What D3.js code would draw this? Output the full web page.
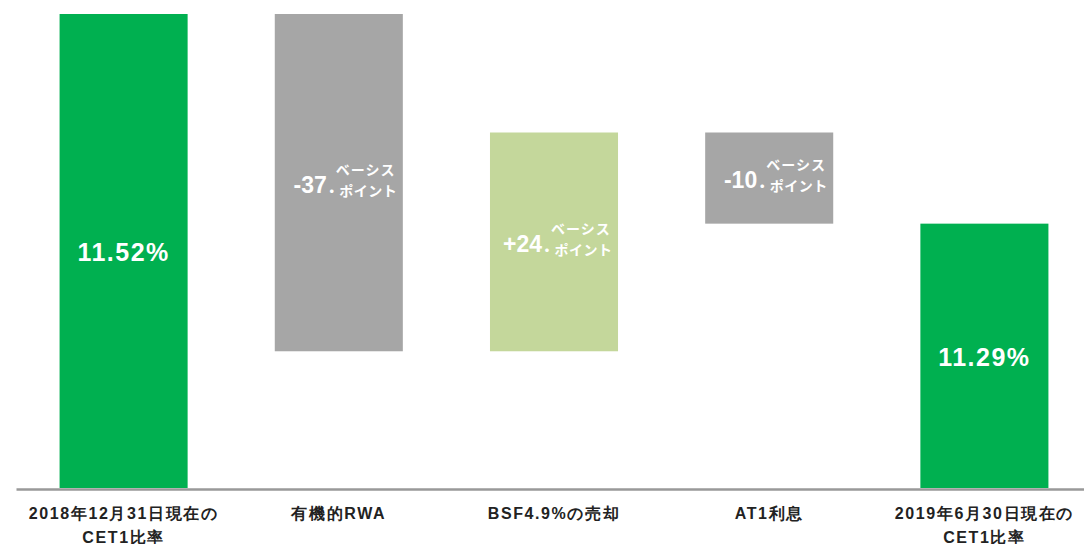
<!DOCTYPE html>
<html>
<head>
<meta charset="utf-8">
<script src="https://cdn.jsdelivr.net/npm/d3@7"></script>
<style>
  body { margin: 0; background: #fff; }
  svg { display: block; font-family: "Liberation Sans", "Noto Sans CJK JP", sans-serif; }
</style>
</head>
<body>
<script>
(function () {
    // data
    var categories = ['2018年12月31日現在の\nCET1比率', '有機的RWA', 'BSF4.9%の売却', 'AT1利息', '2019年6月30日現在の\nCET1比率'],
        kinds = ['total', 'down', 'up', 'down', 'total'],
        values = [11.52, -0.37, 0.24, -0.10, 11.29],
        bigLabels = ['11.52%', '-37', '+24', '-10', '11.29%'],
        unitTop = 'ベーシス',
        unitBottom = '・ポイント',
        colors = { total: '#00B050', down: '#A6A6A6', up: '#C4D79B' };

    var width = 1084,
        height = 544,
        baseY = 488;

    var svg = d3.select('body').append('svg')
        .attr('width', width)
        .attr('height', height);

    var x = d3.scaleBand()
        .domain(categories)
        .range([16, 1092])
        .paddingInner(0.405)
        .paddingOuter(0.2025);

    var y = d3.scaleLinear()
        .domain([11.0, 11.52])
        .range([baseY, 14]);

    // running totals for waterfall
    var running = 0;
    var bars = categories.map(function (c, i) {
        var lo, hi;
        if (kinds[i] === 'total') {
            lo = y.domain()[0];
            hi = values[i];
            running = values[i];
        } else {
            var next = running + values[i];
            lo = Math.min(running, next);
            hi = Math.max(running, next);
            running = next;
        }
        return { cat: c, kind: kinds[i], lo: lo, hi: hi, label: bigLabels[i] };
    });

    svg.selectAll('rect.bar')
        .data(bars)
        .enter().append('rect')
        .attr('class', 'bar')
        .attr('x', function (d) { return x(d.cat); })
        .attr('width', x.bandwidth())
        .attr('y', function (d) { return y(d.hi); })
        .attr('height', function (d) { return y(d.lo) - y(d.hi); })
        .attr('fill', function (d) { return colors[d.kind]; });

    // axis
    var axis = svg.append('g')
        .attr('transform', 'translate(0,' + (baseY + 1) + ')')
        .call(d3.axisBottom(x).tickSize(0).tickSizeOuter(0));

    axis.select('.domain')
        .attr('stroke', '#999')
        .attr('stroke-width', 2.5);

    axis.selectAll('.tick text').each(function (d) {
        var t = d3.select(this).text(null)
            .attr('y', null)
            .attr('dy', null)
            .attr('fill', '#222')
            .attr('font-size', 16)
            .attr('font-weight', 'bold')
            .attr('letter-spacing', 1.6);
        d.split('\n').forEach(function (line, k) {
            t.append('tspan')
                .attr('x', 0)
                .attr('y', 30 + k * 24)
                .text(line);
        });
    });

    // labels in bars
    bars.forEach(function (d) {
        var cx = x(d.cat) + x.bandwidth() / 2,
            cy = (y(d.hi) + y(d.lo)) / 2;
        if (d.kind === 'total') {
            svg.append('text')
                .attr('x', cx)
                .attr('y', cy + 10)
                .attr('text-anchor', 'middle')
                .attr('fill', '#fff')
                .attr('font-size', 25)
                .attr('font-weight', 'bold')
                .attr('letter-spacing', 1.5)
                .text(d.label);
        } else {
            svg.append('text')
                .attr('x', cx - 12)
                .attr('y', cy + 10)
                .attr('text-anchor', 'end')
                .attr('fill', '#fff')
                .attr('font-size', 23)
                .attr('font-weight', 'bold')
                .text(d.label);
            svg.append('text')
                .attr('x', cx - 3)
                .attr('y', cy - 8)
                .attr('fill', '#fff')
                .attr('font-size', 14)
                .attr('font-weight', 'bold')
                .attr('letter-spacing', 1)
                .text(unitTop);
            svg.append('text')
                .attr('x', cx - 14)
                .attr('y', cy + 13)
                .attr('fill', '#fff')
                .attr('font-size', 14)
                .attr('font-weight', 'bold')
                .attr('letter-spacing', 0.5)
                .text(unitBottom);
        }
    });
}());
</script>
</body>
</html>
